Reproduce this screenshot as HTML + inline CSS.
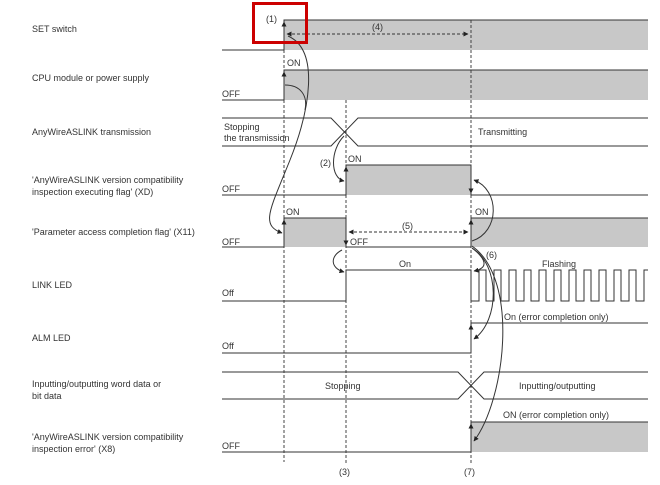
<!DOCTYPE html>
<html><head><meta charset="utf-8"><style>
html,body{margin:0;padding:0;background:#fff;}
svg{display:block;font-family:"Liberation Sans",Arial,sans-serif;}
text{font-size:9px;fill:#333;}
</style></head><body>
<svg width="660" height="485" viewBox="0 0 660 485" xmlns="http://www.w3.org/2000/svg">
<defs>
<marker id="a" viewBox="0 0 10 10" refX="9" refY="5" markerWidth="5" markerHeight="5" orient="auto-start-reverse"><path d="M0,0 L10,5 L0,10z" fill="#222"/></marker>
</defs>
<!-- left labels -->
<text x="32" y="32">SET switch</text>
<text x="32" y="81">CPU module or power supply</text>
<text x="32" y="135">AnyWireASLINK transmission</text>
<text x="32" y="183">'AnyWireASLINK version compatibility</text>
<text x="32" y="195">inspection executing flag' (XD)</text>
<text x="32" y="235">'Parameter access completion flag' (X11)</text>
<text x="32" y="288">LINK LED</text>
<text x="32" y="341">ALM LED</text>
<text x="32" y="387">Inputting/outputting word data or</text>
<text x="32" y="399">bit data</text>
<text x="32" y="440">'AnyWireASLINK version compatibility</text>
<text x="32" y="452">inspection error' (X8)</text>

<!-- gray fills -->
<g fill="#c8c8c8">
<rect x="284" y="20" width="364" height="30"/>
<rect x="284" y="70" width="364" height="30"/>
<rect x="346" y="165" width="125" height="30"/>
<rect x="284" y="218" width="62" height="29"/>
<rect x="471" y="218" width="177" height="29"/>
<rect x="471" y="422" width="177" height="30"/>
</g>

<!-- dashed verticals -->
<g stroke="#444" stroke-width="1" stroke-dasharray="3,2" fill="none">
<line x1="284" y1="20" x2="284" y2="462"/>
<line x1="346" y1="100" x2="346" y2="463"/>
<line x1="471" y1="20" x2="471" y2="463"/>
</g>

<!-- signal lines -->
<g stroke="#333" stroke-width="1" fill="none">
<path d="M222,50 H284 V20 H648"/>
<path d="M222,100 H284 V70 H648"/>
<path d="M222,118 H331 L358,146 H648"/>
<path d="M222,146 H331 L358,118 H648"/>
<path d="M222,195 H346 V165 H471 V195 H648"/>
<path d="M222,247 H284 V218 H346 V247 H471 V218 H648"/>
<path d="M222,301 H346 V270 H471 V301"/>
<path d="M471,301 H479 V270 H486 V301 H494 V270 H501 V301 H509 V270 H516 V301 H524 V270 H531 V301 H539 V270 H546 V301 H554 V270 H561 V301 H569 V270 H576 V301 H584 V270 H591 V301 H599 V270 H606 V301 H614 V270 H621 V301 H629 V270 H636 V301 H644 V270 H648"/>
<path d="M222,353 H471 V323 H648"/>
<path d="M222,372 H458 L484,399 H648"/>
<path d="M222,399 H458 L484,372 H648"/>
<path d="M222,452 H471 V422 H648"/>
</g>

<!-- dashed time arrows -->
<g stroke="#333" stroke-width="1" stroke-dasharray="3,2" fill="none">
<line x1="287" y1="34" x2="468" y2="34" marker-start="url(#a)" marker-end="url(#a)"/>
<line x1="349" y1="232" x2="468" y2="232" marker-start="url(#a)" marker-end="url(#a)"/>
</g>

<!-- connector curves -->
<g stroke="#333" stroke-width="1" fill="none">
<line x1="284" y1="30" x2="284" y2="22" marker-end="url(#a)"/>
<path d="M288,36 C320,50 310,110 290,160 C270,210 260,225 282,233" marker-end="url(#a)"/>
<line x1="284" y1="80" x2="284" y2="72" marker-end="url(#a)"/>
<path d="M285,85 C300,85 308,95 305,110"/>
<path d="M344,136 C330,150 330,178 344,181" marker-end="url(#a)"/>
<line x1="346" y1="175" x2="346" y2="167" marker-end="url(#a)"/>
<line x1="284" y1="228" x2="284" y2="220" marker-end="url(#a)"/>
<line x1="346" y1="236" x2="346" y2="245" marker-end="url(#a)"/>
<path d="M342,250 C330,256 330,268 344,272" marker-end="url(#a)"/>
<line x1="346" y1="280" x2="346" y2="272"/>
<line x1="471" y1="185" x2="471" y2="193" marker-end="url(#a)"/>
<path d="M472,241 C500,232 500,190 474,180" marker-end="url(#a)"/>
<line x1="471" y1="228" x2="471" y2="220" marker-end="url(#a)"/>
<path d="M472,248 C485,258 490,268 474,271" marker-end="url(#a)"/>
<path d="M472,248 C500,265 500,320 474,339" marker-end="url(#a)"/>
<path d="M472,246 C520,280 505,400 474,441" marker-end="url(#a)"/>
<line x1="471" y1="336" x2="471" y2="325" marker-end="url(#a)"/>
<line x1="471" y1="435" x2="471" y2="424" marker-end="url(#a)"/>
</g>

<!-- in-chart labels -->
<text x="266" y="22">(1)</text>
<text x="372" y="30">(4)</text>
<text x="287" y="66">ON</text>
<text x="222" y="97">OFF</text>
<text x="224" y="130">Stopping</text>
<text x="224" y="141">the transmission</text>
<text x="478" y="135">Transmitting</text>
<text x="320" y="166">(2)</text>
<text x="348" y="162">ON</text>
<text x="222" y="192">OFF</text>
<text x="286" y="215">ON</text>
<text x="475" y="215">ON</text>
<text x="402" y="229">(5)</text>
<text x="222" y="245">OFF</text>
<text x="350" y="245">OFF</text>
<text x="486" y="258">(6)</text>
<text x="399" y="267">On</text>
<text x="542" y="267">Flashing</text>
<text x="222" y="296">Off</text>
<text x="504" y="320">On (error completion only)</text>
<text x="222" y="349">Off</text>
<text x="325" y="389">Stopping</text>
<text x="519" y="389">Inputting/outputting</text>
<text x="503" y="418">ON (error completion only)</text>
<text x="222" y="449">OFF</text>
<text x="339" y="475">(3)</text>
<text x="464" y="475">(7)</text>

<!-- red highlight box -->
<rect x="253.5" y="3.5" width="53" height="39" fill="none" stroke="#cc0000" stroke-width="3"/>
</svg>
</body></html>
